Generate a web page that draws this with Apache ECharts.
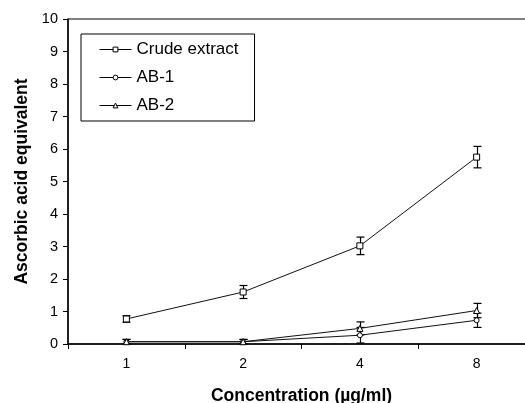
<!DOCTYPE html>
<html>
<head>
<meta charset="utf-8">
<script src="https://cdn.jsdelivr.net/npm/echarts@6/dist/echarts.min.js"></script>
<style>html,body{margin:0;padding:0;background:#fff;overflow:hidden}#c{width:525px;height:403px}</style>
</head>
<body>
<div id="c"></div>
<script>
var categories = ['1', '2', '4', '8'];
var crude = [0.77, 1.6, 3.02, 5.75];
var crudeErr = [0.1, 0.2, 0.27, 0.33];
var ab1 = [0.07, 0.07, 0.27, 0.73];
var ab1Err = [0.07, 0.07, 0.24, 0.22];
var ab2 = [0.07, 0.07, 0.48, 1.03];
var ab2Err = [0.07, 0.07, 0.2, 0.22];
var yTicks = [0, 1, 2, 3, 4, 5, 6, 7, 8, 9, 10];

function errData(vals, errs) {
  return vals.map(function (v, i) { return [i, v - errs[i], v + errs[i]]; });
}
function errSeries(vals, errs) {
  return {
    type: 'custom',
    silent: true,
    z: 1,
    data: errData(vals, errs),
    renderItem: function (params, api) {
      var lo = api.coord([api.value(0), api.value(1)]);
      var hi = api.coord([api.value(0), api.value(2)]);
      var x = Math.round(lo[0]) + 0.5, hw = 4;
      var st = { stroke: '#000', lineWidth: 1.2 };
      return {
        type: 'group',
        children: [
          { type: 'line', shape: { x1: x, y1: lo[1], x2: x, y2: hi[1] }, style: st },
          { type: 'line', shape: { x1: x - hw, y1: lo[1], x2: x + hw, y2: lo[1] }, style: st },
          { type: 'line', shape: { x1: x - hw, y1: hi[1], x2: x + hw, y2: hi[1] }, style: st }
        ]
      };
    }
  };
}
function lineSeries(name, vals, symbol, size) {
  return {
    name: name,
    type: 'line',
    data: vals,
    z: 3,
    symbol: symbol,
    symbolSize: size,
    showAllSymbol: true,
    lineStyle: { color: '#111', width: 1 },
    itemStyle: { color: '#fff', borderColor: '#000', borderWidth: 1 },
    emphasis: { disabled: true },
    animation: false
  };
}

var chart = echarts.init(document.getElementById('c'), null, { renderer: 'canvas' });
chart.setOption({
  animation: false,
  backgroundColor: '#fff',
  grid: { left: 68, top: 19, width: 467, height: 325, outerBoundsMode: 'none', containLabel: false, show: true, borderColor: '#000', borderWidth: 1, backgroundColor: 'transparent' },
  legend: {
    orient: 'vertical',
    left: 81,
    top: 34,
    padding: [7, 16, 7, 18],
    itemWidth: 32,
    itemHeight: 6,
    itemGap: 11,
    borderColor: '#000',
    borderWidth: 1,
    backgroundColor: '#fff',
    lineStyle: { width: 1, color: '#000' },
    itemStyle: { color: '#fff', borderColor: '#000', borderWidth: 1 },
    textStyle: { fontFamily: 'Liberation Sans, Arial', fontSize: 17, lineHeight: 17, color: '#000' },
    data: ['Crude extract', 'AB-1', 'AB-2']
  },
  xAxis: {
    type: 'category',
    data: categories,
    boundaryGap: true,
    name: 'Concentration (µg/ml)',
    nameLocation: 'middle',
    nameGap: 43,
    nameTextStyle: { fontFamily: 'Liberation Sans, Arial', fontSize: 17.5, fontWeight: 'bold', color: '#000' },
    axisLine: { lineStyle: { color: '#000', width: 1.5 } },
    axisTick: { show: true, length: 5, lineStyle: { color: '#000' } },
    axisLabel: { fontFamily: 'Liberation Sans, Arial', fontSize: 14, color: '#000', margin: 13 },
    splitLine: { show: false }
  },
  yAxis: {
    type: 'value',
    min: yTicks[0],
    max: yTicks[yTicks.length - 1],
    interval: 1,
    name: 'Ascorbic acid equivalent',
    nameLocation: 'middle',
    nameGap: 37,
    nameRotate: 90,
    nameTextStyle: { fontFamily: 'Liberation Sans, Arial', fontSize: 17.5, fontWeight: 'bold', color: '#000' },
    axisLine: { show: true, lineStyle: { color: '#000', width: 1.5 } },
    axisTick: { show: true, inside: false, length: 5, lineStyle: { color: '#000' } },
    axisLabel: { fontFamily: 'Liberation Sans, Arial', fontSize: 14.5, color: '#000', margin: 10 },
    splitLine: { show: false }
  },
  series: [
    errSeries(crude, crudeErr),
    errSeries(ab1, ab1Err),
    errSeries(ab2, ab2Err),
    lineSeries('Crude extract', crude, 'rect', 6),
    lineSeries('AB-1', ab1, 'circle', 5),
    lineSeries('AB-2', ab2, 'triangle', 6)
  ]
});
</script>
</body>
</html>
